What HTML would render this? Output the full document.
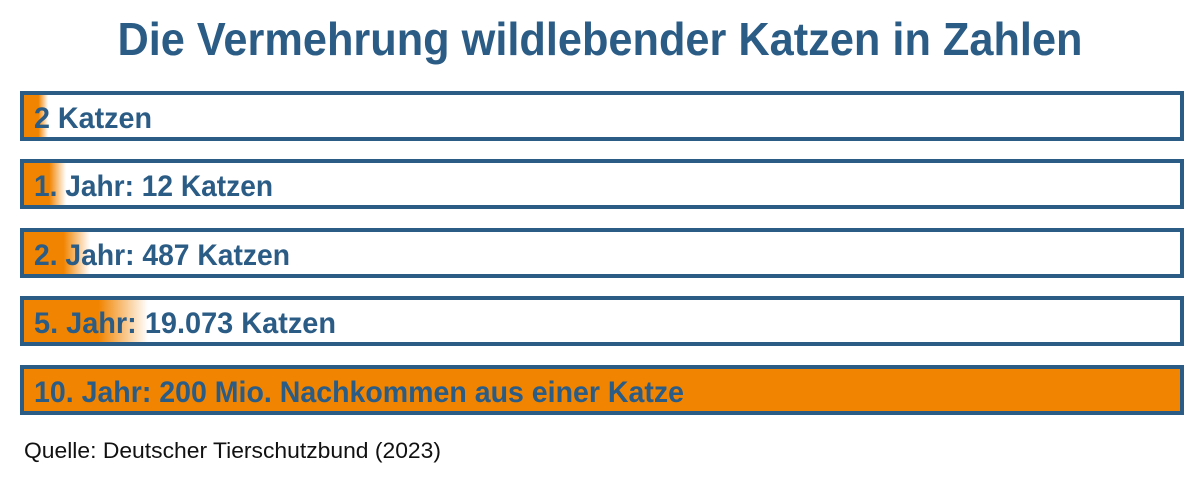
<!DOCTYPE html>
<html><head><meta charset="utf-8"><style>
html,body{margin:0;padding:0;background:#fff;width:1200px;height:480px;overflow:hidden}
</style></head><body>
<svg width="1200" height="480" xmlns="http://www.w3.org/2000/svg" font-family="Liberation Sans, sans-serif">
<defs>
<linearGradient id="g1" x1="0" x2="1"><stop offset="0" stop-color="#f18400"/><stop offset="0.6" stop-color="#f18400"/><stop offset="1" stop-color="#f18400" stop-opacity="0"/></linearGradient>
</defs>
<text x="600" y="55" text-anchor="middle" font-size="46" font-weight="bold" fill="#2b5c86" textLength="965" lengthAdjust="spacingAndGlyphs">Die Vermehrung wildlebender Katzen in Zahlen</text>
<g stroke="#2b5c86" stroke-width="4">
<rect x="22" y="93" width="1160" height="46" fill="#fff"/>
<rect x="22" y="161" width="1160" height="46" fill="#fff"/>
<rect x="22" y="230" width="1160" height="46" fill="#fff"/>
<rect x="22" y="298" width="1160" height="46" fill="#fff"/>
<rect x="22" y="367" width="1160" height="46" fill="#f18400"/>
</g>
<rect x="24" y="95" width="24" height="42" fill="url(#g1)"/>
<rect x="24" y="163" width="42" height="42" fill="url(#g1)"/>
<rect x="24" y="232" width="66" height="42" fill="url(#g1)"/>
<rect x="24" y="300" width="124" height="42" fill="url(#g1)"/>
<g font-size="30" font-weight="bold" fill="#2b5c86">
<text x="34" y="128" textLength="118" lengthAdjust="spacingAndGlyphs">2 Katzen</text>
<text x="34" y="196" textLength="239" lengthAdjust="spacingAndGlyphs">1. Jahr: 12 Katzen</text>
<text x="34" y="265" textLength="256" lengthAdjust="spacingAndGlyphs">2. Jahr: 487 Katzen</text>
<text x="34" y="333" textLength="302" lengthAdjust="spacingAndGlyphs">5. Jahr: 19.073 Katzen</text>
<text x="34" y="402" textLength="650" lengthAdjust="spacingAndGlyphs">10. Jahr: 200 Mio. Nachkommen aus einer Katze</text>
</g>
<text x="24" y="458" font-size="22" fill="#111" textLength="417" lengthAdjust="spacingAndGlyphs">Quelle: Deutscher Tierschutzbund (2023)</text>
</svg>
</body></html>
